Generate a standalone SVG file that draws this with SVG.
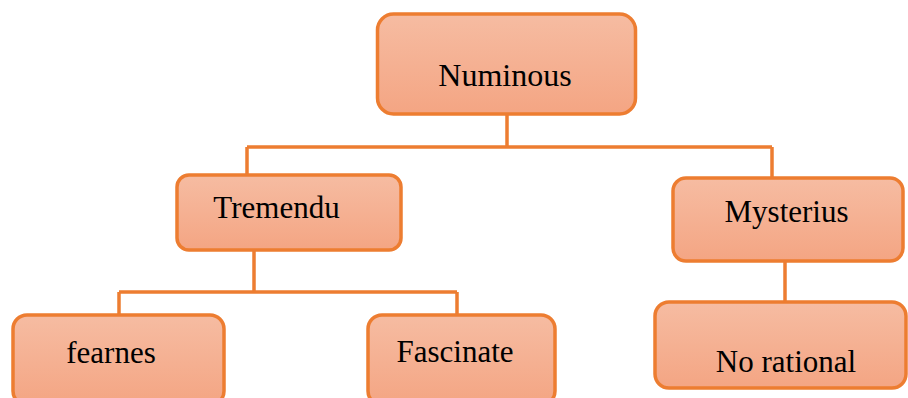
<svg xmlns="http://www.w3.org/2000/svg" width="908" height="398" viewBox="0 0 908 398">
<defs>
<linearGradient id="g" x1="0" y1="0" x2="0" y2="1">
<stop offset="0" stop-color="#F6BCA2"/>
<stop offset="1" stop-color="#F4A583"/>
</linearGradient>
<style>
.box{fill:url(#g);stroke:#ED7D31;stroke-width:3.5}
.lbl{font-family:"Liberation Serif","Times New Roman",serif;font-size:31px;fill:#000;text-anchor:middle}
.con{fill:none;stroke:#ED7D31;stroke-width:3.5}
</style>
</defs>
<rect width="908" height="398" fill="#fff"/>
<g id="connectors">
<path class="con" d="M507 115 V147 M247 147 H772 M247 147 V175 M772 147 V178"/>
<path class="con" d="M254 251 V292 M119 292 H457 M119 292 V315 M457 292 V315"/>
<path class="con" d="M785 261 V302"/>
</g>
<g id="numinous">
<rect class="box" x="377.5" y="14" width="258" height="100" rx="16"/>
<text class="lbl" x="505" y="86" style="font-size:32px">Numinous</text>
</g>
<g id="tremendu">
<rect class="box" x="177" y="175" width="224" height="75" rx="12"/>
<text class="lbl" x="276.5" y="218">Tremendu</text>
</g>
<g id="mysterius">
<rect class="box" x="673" y="178" width="230" height="83" rx="13"/>
<text class="lbl" x="786.5" y="222">Mysterius</text>
</g>
<g id="norational">
<rect class="box" x="655" y="302" width="251" height="86" rx="14"/>
<text class="lbl" x="786" y="372">No rational</text>
</g>
<g id="fearnes">
<rect class="box" x="13" y="315" width="211" height="90" rx="14"/>
<text class="lbl" x="111" y="363">fearnes</text>
</g>
<g id="fascinate">
<rect class="box" x="368" y="315" width="187" height="90" rx="14"/>
<text class="lbl" x="455" y="362">Fascinate</text>
</g>
</svg>
